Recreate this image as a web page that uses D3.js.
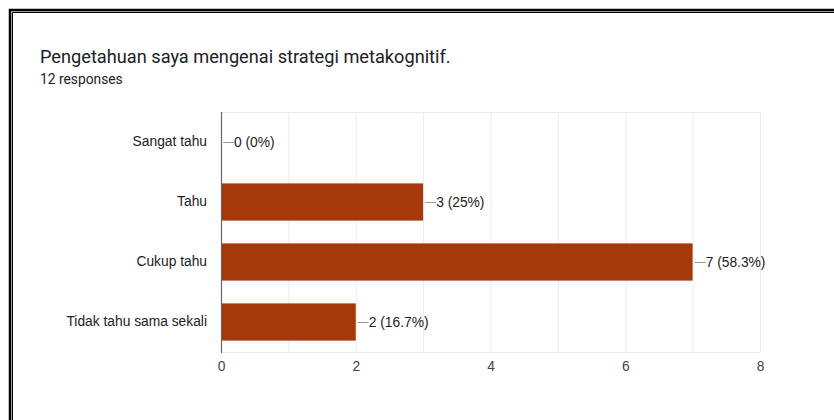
<!DOCTYPE html>
<html>
<head>
<meta charset="utf-8">
<script src="https://cdn.jsdelivr.net/npm/d3@7"></script>
<style>
  html, body { margin: 0; padding: 0; background: #fff; }
  svg { display: block; }
</style>
</head>
<body>
<script>
const WIDTH = 834,
      HEIGHT = 420,
      BAR_COLOR = "#a5390b",
      GRID_COLOR = "#ebebeb",
      AXIS_COLOR = "#666",
      LABEL_FONT = "'Liberation Sans', Arial, sans-serif",
      LABEL_SIZE = 13.8;

const title = "Pengetahuan saya mengenai strategi metakognitif.",
      subtitle = "12 responses";

const categories = ["Sangat tahu", "Tahu", "Cukup tahu", "Tidak tahu sama sekali"],
      counts = [0, 3, 7, 2],
      percents = ["0%", "25%", "58.3%", "16.7%"],
      xTicks = [0, 2, 4, 6, 8];

const plot = {left: 221, right: 760, top: 112, bottom: 352};

let svg = d3.select("body")
  .append("svg")
  .attr("width", WIDTH)
  .attr("height", HEIGHT);

// frame around the screenshot
svg.append("path")
  .attr("d", "M10," + HEIGHT + " V10 H" + WIDTH)
  .attr("fill", "none")
  .attr("stroke", "#000")
  .attr("stroke-width", 2.5);
svg.append("path")
  .attr("d", "M11.5," + HEIGHT + " V11.5 H" + WIDTH)
  .attr("fill", "none")
  .attr("stroke", "#999")
  .attr("stroke-width", 1);
svg.append("path")
  .attr("d", "M12.5," + HEIGHT + " V12.5 H" + WIDTH)
  .attr("fill", "none")
  .attr("stroke", "#000")
  .attr("stroke-width", 1);

svg.append("text")
  .attr("x", 40)
  .attr("y", 63)
  .attr("font-family", "Roboto, sans-serif")
  .attr("font-size", 18.2)
  .attr("fill", "#202124")
  .text(title);

svg.append("text")
  .attr("x", 40)
  .attr("y", 84)
  .attr("font-family", "Roboto, sans-serif")
  .attr("font-size", 13.8)
  .attr("fill", "#202124")
  .text(subtitle);

let x = d3.scaleLinear()
  .domain([0, 8])
  .range([plot.left, plot.right]);

let y = d3.scaleBand()
  .domain(categories)
  .range([plot.top, plot.bottom])
  .paddingInner(0.38)
  .paddingOuter(0.19);

// gridlines, one per unit
svg.append("g")
  .selectAll("line")
  .data(d3.range(1, 9))
  .join("line")
  .attr("x1", d => x(d) + 0.5)
  .attr("x2", d => x(d) + 0.5)
  .attr("y1", plot.top)
  .attr("y2", plot.bottom)
  .attr("stroke", GRID_COLOR);

svg.append("line")
  .attr("x1", plot.left)
  .attr("x2", plot.right)
  .attr("y1", plot.top + 0.5)
  .attr("y2", plot.top + 0.5)
  .attr("stroke", GRID_COLOR);

svg.append("line")
  .attr("x1", plot.left)
  .attr("x2", plot.right)
  .attr("y1", plot.bottom + 0.5)
  .attr("y2", plot.bottom + 0.5)
  .attr("stroke", GRID_COLOR);

// bars
svg.append("g")
  .selectAll("rect")
  .data(categories)
  .join("rect")
  .attr("x", x(0))
  .attr("y", d => y(d))
  .attr("width", (d, i) => x(counts[i]) - x(0))
  .attr("height", y.bandwidth())
  .attr("fill", BAR_COLOR);

// x axis
let xAxis = svg.append("g")
  .attr("transform", "translate(0," + plot.bottom + ")")
  .call(d3.axisBottom(x).tickValues(xTicks).tickSize(0).tickPadding(9));
xAxis.select(".domain").remove();
xAxis.selectAll("text")
  .attr("font-family", LABEL_FONT)
  .attr("font-size", LABEL_SIZE)
  .attr("fill", "#444");

// y axis
let yAxis = svg.append("g")
  .attr("transform", "translate(" + plot.left + ",0)")
  .call(d3.axisLeft(y).tickSize(0).tickPadding(14));
yAxis.select(".domain").remove();
yAxis.selectAll("text")
  .attr("font-family", LABEL_FONT)
  .attr("font-size", LABEL_SIZE)
  .attr("fill", "#222");

svg.append("line")
  .attr("x1", plot.left + 0.5)
  .attr("x2", plot.left + 0.5)
  .attr("y1", plot.top)
  .attr("y2", plot.bottom + 1)
  .attr("stroke", AXIS_COLOR)
  .attr("stroke-width", 1.2);

// value annotations with leader lines
let notes = svg.append("g")
  .selectAll("g")
  .data(categories)
  .join("g")
  .attr("transform", (d, i) => "translate(" + x(counts[i]) + "," + (y(d) + y.bandwidth() / 2) + ")");

notes.append("line")
  .attr("x1", 2)
  .attr("x2", 13)
  .attr("y1", 0.5)
  .attr("y2", 0.5)
  .attr("stroke", "#999");

notes.append("text")
  .attr("x", 13)
  .attr("dy", "0.35em")
  .attr("font-family", LABEL_FONT)
  .attr("font-size", LABEL_SIZE)
  .attr("fill", "#222")
  .text((d, i) => counts[i] + " (" + percents[i] + ")");
</script>
</body>
</html>
